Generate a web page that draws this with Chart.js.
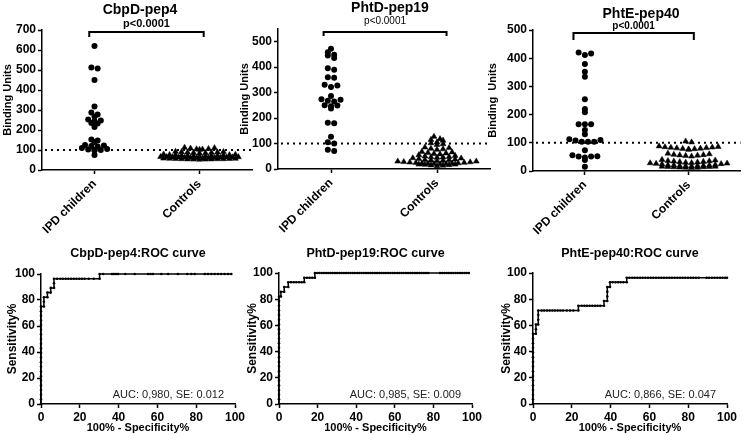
<!DOCTYPE html>
<html>
<head>
<meta charset="utf-8">
<script src="https://cdn.jsdelivr.net/npm/chart.js@4.4.1/dist/chart.umd.min.js"></script>
<style>
  html, body { margin: 0; padding: 0; background: #fff; }
  #page { position: relative; width: 745px; height: 435px; overflow: hidden; }
  .panel { position: absolute; }
</style>
</head>
<body>
<div id="page">
  <div class="panel" id="p1"><canvas></canvas></div>
  <div class="panel" id="p2"><canvas></canvas></div>
  <div class="panel" id="p3"><canvas></canvas></div>
  <div class="panel" id="p4"><canvas></canvas></div>
  <div class="panel" id="p5"><canvas></canvas></div>
  <div class="panel" id="p6"><canvas></canvas></div>
</div>
<script>
const groups = ['IPD children', 'Controls'];

// binding units (top row)
const cbpdIpd  = [620, 513, 508, 450, 318, 288, 278, 268, 252, 248, 245, 235, 232, 215, 152, 148, 140, 125, 122, 120, 118, 110, 105, 102, 100, 100, 98, 75];
const cbpdCtrl = [112, 110, 108, 106, 104, 103, 102, 92, 91, 90, 89, 88, 87, 86, 85, 84, 78, 77, 76, 75, 75, 74, 73, 72, 72, 71, 70, 70, 69,
                  66, 65, 65, 64, 64, 63, 63, 62, 62, 61, 61, 60, 60, 58, 58, 57, 57, 56, 56, 55, 55, 55, 54, 54, 53, 53, 52];
const phtdIpd  = [472, 459, 449, 446, 436, 396, 390, 360, 358, 331, 328, 322, 287, 274, 272, 268, 265, 250, 249, 247, 238, 182, 180, 127, 105, 100, 76, 71];
const phtdCtrl = [127, 118, 115, 112, 105, 102, 98, 95, 85, 83, 80, 78, 76, 68, 66, 64, 62, 60, 58, 55, 52, 50, 48, 47, 46, 45, 43, 42, 40,
                  38, 36, 35, 34, 33, 32, 30, 30, 28, 27, 26, 25, 24, 23, 22, 22, 21, 20, 20, 19, 18, 18, 17, 16, 15, 14, 12];
const phteIpd  = [420, 417, 411, 379, 352, 334, 254, 220, 208, 166, 166, 166, 145, 130, 113, 110, 108, 104, 104, 104, 74, 56, 52, 51, 51, 48, 39, 15];
const phteCtrl = [105, 102, 88, 86, 85, 84, 83, 82, 81, 80, 79, 78, 77, 76, 62, 60, 58, 57, 56, 55, 54, 52,
                  40, 38, 36, 35, 34, 33, 32, 31, 30, 29, 28, 27, 26, 25, 24, 22, 21, 20, 20, 19, 18, 18, 17, 17, 16, 16, 15, 15, 14, 14, 13, 12, 12, 11];
const cutoff = 100;

// ROC curves: x = 100% - specificity%, y = sensitivity%
const rocCbpdX = [0, 0, 0, 0, 0, 0, 0, 0, 0, 0, 0, 0, 0, 0, 0, 0, 0, 0, 0, 0, 0, 0,
  1.5, 1.5, 1.5, 3.3, 3.3, 5, 5, 6.7, 6.7, 6.7,
  8.3, 10, 11.3, 12.7, 14.1, 15.5, 16.9, 18.3, 19.7, 21.1, 22.5, 24.6, 27.2, 30.2,
  30.2, 32, 36.6, 37.6, 38.7, 39.7, 43.5, 48.3, 55.2, 56.5, 57.7, 62, 65.5, 70.6, 75.4, 77.5, 79.2, 84.4, 86.1, 87.8, 89.5, 91.2, 92.9, 94.6, 96.4, 98.1];
const rocCbpdY = [0, 3.6, 7.1, 10.7, 14.3, 17.9, 21.4, 25, 28.6, 32.1, 35.7, 39.3, 42.9, 46.4, 50, 53.6, 57.1, 60.7, 64.3, 67.9, 71.4, 75,
  75, 78.6, 82.1, 82.1, 85.7, 85.7, 89.3, 89.3, 92.9, 96.4,
  96.4, 96.4, 96.4, 96.4, 96.4, 96.4, 96.4, 96.4, 96.4, 96.4, 96.4, 96.4, 96.4, 96.4,
  100, 100, 100, 100, 100, 100, 100, 100, 100, 100, 100, 100, 100, 100, 100, 100, 100, 100, 100, 100, 100, 100, 100, 100, 100, 100];

const rocPhtdX = [0, 0, 0, 0, 0, 0, 0, 0, 0, 0, 0, 0, 0, 0, 0, 0, 0, 0, 0, 0, 0, 0, 0, 0,
  1, 1, 2.7, 2.7, 4.8, 4.8, 6.2, 7.6, 9, 10.4, 11.7, 13.1, 13.1, 14.5, 15.9, 17.3, 18.6, 18.6,
  19.8, 20.9, 22.1, 23.2, 24.4, 25.5, 26.7, 27.8, 29, 30.1, 31.3, 32.4, 33.6, 34.7, 35.9, 37, 38.2, 39.3, 40.5, 41.6,
  42.8, 43.9, 45.1, 46.2, 47.4, 48.5, 49.7, 50.8, 52, 53.1, 54.3, 55.4, 56.6, 57.7, 58.9, 60, 61.2, 62.3, 63.5, 64.6,
  65.8, 66.9, 68.1, 69.2, 70.4, 71.5, 72.7, 73.8, 75, 76.1, 77.3,
  83.4, 84.6, 85.7, 86.9, 88, 89.2, 90.3, 91.5, 92.6, 93.8, 94.9, 96.1, 97.2, 98.4];
const rocPhtdY = [0, 3.6, 7.1, 10.7, 14.3, 17.9, 21.4, 25, 28.6, 32.1, 35.7, 39.3, 42.9, 46.4, 50, 53.6, 57.1, 60.7, 64.3, 67.9, 71.4, 75, 78.6, 82.1,
  82.1, 85.7, 85.7, 89.3, 89.3, 92.9, 92.9, 92.9, 92.9, 92.9, 92.9, 92.9, 96.4, 96.4, 96.4, 96.4, 96.4, 100,
  100, 100, 100, 100, 100, 100, 100, 100, 100, 100, 100, 100, 100, 100, 100, 100, 100, 100, 100, 100,
  100, 100, 100, 100, 100, 100, 100, 100, 100, 100, 100, 100, 100, 100, 100, 100, 100, 100, 100, 100,
  100, 100, 100, 100, 100, 100, 100, 100, 100, 100, 100,
  100, 100, 100, 100, 100, 100, 100, 100, 100, 100, 100, 100, 100, 100];

const rocPhteX = [0, 0, 0, 0, 0, 0, 0, 0, 0, 0, 0, 0, 0, 0, 0, 0,
  1.5, 1.5, 1.5, 2.7, 2.7, 2.7, 2.7,
  4.5, 5.8, 7.2, 8.6, 10, 11.3, 12.7, 14.1, 15.5, 17.4, 19.1, 20.8, 23.4, 23.4,
  25.1, 26.5, 27.8, 29.2, 30.6, 32, 33.3, 34.7, 36.6, 36.6,
  38.3, 38.3, 38.3, 38.3, 39.7, 39.7,
  41.1, 42.5, 43.9, 45.2, 46.6, 48.3, 48.3,
  49.7, 51.1, 52.4, 53.8, 55.2, 56.5, 57.9, 59.3, 60.7, 62, 63.4, 64.8, 66.2, 67.5, 68.9, 70.3, 71.6, 73, 74.4, 75.8,
  77.1, 78.5, 79.9, 81.3, 82.6, 84, 85.4, 89.5, 90.8, 92.2, 93.6, 95, 96.4, 97.7, 99.1, 100];
const rocPhteY = [0, 3.6, 7.1, 10.7, 14.3, 17.9, 21.4, 25, 28.6, 32.1, 35.7, 39.3, 42.9, 46.4, 50, 53.6,
  53.6, 57.1, 60.7, 60.7, 64.3, 67.9, 71.4,
  71.4, 71.4, 71.4, 71.4, 71.4, 71.4, 71.4, 71.4, 71.4, 71.4, 71.4, 71.4, 71.4, 75,
  75, 75, 75, 75, 75, 75, 75, 75, 75, 78.6,
  78.6, 82.1, 85.7, 89.3, 89.3, 92.9,
  92.9, 92.9, 92.9, 92.9, 92.9, 92.9, 96.4,
  96.4, 96.4, 96.4, 96.4, 96.4, 96.4, 96.4, 96.4, 96.4, 96.4, 96.4, 96.4, 96.4, 96.4, 96.4, 96.4, 96.4, 96.4, 96.4, 96.4,
  96.4, 96.4, 96.4, 96.4, 96.4, 96.4, 96.4, 96.4, 96.4, 96.4, 96.4, 96.4, 96.4, 96.4, 96.4, 96.4];

const aucText = ['AUC: 0,980, SE: 0.012', 'AUC: 0,985, SE: 0.009', 'AUC: 0,866, SE: 0.047'];

const FAMILY = '"Liberation Sans", Arial, Helvetica, sans-serif';
const tickFont = { family: FAMILY, size: 12, weight: 'bold' };

// GraphPad-like column scatter: group close values into rows, spread rows sideways
function swarm(values, center, bin, dx, maxRow) {
  const sorted = [...values].sort((a, b) => b - a);
  const rows = [];
  let row = null;
  sorted.forEach(v => {
    if (!row || row[0] - v >= bin || row.length >= maxRow) { row = [v]; rows.push(row); }
    else row.push(v);
  });
  const pts = [];
  rows.forEach(r => {
    const n = r.length;
    r.forEach((v, i) => {
      const slot = i % 2 === 0 ? i / 2 : n - 1 - (i - 1) / 2;
      pts.push({ x: center + (slot - (n - 1) / 2) * dx, y: v });
    });
  });
  return pts;
}

const decor = {
  id: 'decor',
  beforeDatasetsDraw(chart, args, o) {
    if (o.cutoff == null) return;
    const ctx = chart.ctx, a = chart.chartArea;
    const y = chart.scales.y.getPixelForValue(o.cutoff);
    ctx.save();
    ctx.strokeStyle = '#000';
    ctx.lineWidth = 2;
    ctx.setLineDash([2, 4]);
    ctx.beginPath();
    ctx.moveTo(a.left + 3, y);
    ctx.lineTo(a.right, y);
    ctx.stroke();
    ctx.restore();
  },
  afterDatasetsDraw(chart, args, o) {
    const ctx = chart.ctx, a = chart.chartArea;
    const bx = o.box[0], by = o.box[1];
    const xs = chart.scales.x;
    ctx.save();
    ctx.fillStyle = '#000';
    ctx.strokeStyle = '#000';
    ctx.textAlign = 'center';
    ctx.textBaseline = 'middle';
    if (o.title) {
      ctx.font = 'bold ' + o.titleSize + 'px ' + FAMILY;
      const tx = o.titleX != null ? o.titleX - bx : (a.left + a.right) / 2;
      ctx.fillText(o.title, tx, o.titleY - by);
    }
    if (o.bracket) {
      const x1 = xs.getPixelForValue(o.bracket[0]), x2 = xs.getPixelForValue(o.bracket[1]);
      const y0 = o.bracketY - by, y1 = o.bracketTip - by;
      ctx.lineWidth = 2;
      ctx.beginPath();
      ctx.moveTo(x1, y1); ctx.lineTo(x1, y0); ctx.lineTo(x2, y0); ctx.lineTo(x2, y1);
      ctx.stroke();
      ctx.font = o.pFont + ' ' + FAMILY;
      ctx.fillText('p<0.0001', (x1 + x2) / 2, o.pY - by);
    }
    if (o.auc) {
      ctx.font = '11px ' + FAMILY;
      ctx.fillStyle = '#222';
      ctx.textAlign = 'right';
      ctx.fillText(o.auc, a.right - 11, a.bottom - 9);
    }
    ctx.restore();
  }
};

function axisStyle() {
  return {
    grid: { drawOnChartArea: false, drawTicks: true, tickLength: 4, tickWidth: 1.5, tickColor: '#000' },
    border: { display: true, color: '#000', width: 1.5 }
  };
}

function build(id, box, area, cfg) {
  const el = document.getElementById(id);
  el.style.left = box[0] + 'px';
  el.style.top = box[1] + 'px';
  el.style.width = box[2] + 'px';
  el.style.height = box[3] + 'px';
  const yW = area[0] - box[0];
  const xH = box[1] + box[3] - area[3];
  cfg.options.layout = { padding: { left: 0, top: area[1] - box[1], right: box[0] + box[2] - area[2], bottom: 0 } };
  cfg.options.scales.y.afterFit = s => { s.width = yW; };
  cfg.options.scales.x.afterFit = s => { s.height = xH; s.paddingLeft = 0; s.paddingRight = 0; };
  cfg.options.plugins.decor.box = box;
  cfg.options.plugins.legend = { display: false };
  cfg.options.plugins.tooltip = { enabled: false };
  cfg.options.animation = false;
  cfg.options.responsive = true;
  cfg.options.maintainAspectRatio = false;
  cfg.plugins = [decor];
  return new Chart(el.querySelector('canvas'), cfg);
}

function scatterPanel(id, box, area, ipd, ctrl, yMax, yTitle, bins, deco) {
  build(id, box, area, {
    type: 'scatter',
    data: {
      datasets: [
        { label: groups[0], data: swarm(ipd, 1, bins[0], 0.06, 14), pointStyle: 'circle', pointRadius: 3,
          backgroundColor: '#000', borderColor: '#000', borderWidth: 0, clip: false },
        { label: groups[1], data: swarm(ctrl, 2, bins[1], 0.057, 14), pointStyle: 'triangle', pointRadius: 3.4,
          backgroundColor: '#000', borderColor: '#000', borderWidth: 0.5, clip: false }
      ]
    },
    options: {
      scales: {
        x: Object.assign(axisStyle(), {
          type: 'linear', min: 0.5, max: 2.5,
          afterBuildTicks: s => { s.ticks = [{ value: 1 }, { value: 2 }]; },
          afterCalculateLabelRotation: s => { s.labelRotation = 45; },
          ticks: { autoSkip: false, minRotation: 45, maxRotation: 45, padding: 3, color: '#000', font: tickFont,
                   callback: v => groups[Math.round(v) - 1] }
        }),
        y: Object.assign(axisStyle(), {
          type: 'linear', min: 0, max: yMax,
          ticks: { stepSize: 100, includeBounds: false, padding: 2, color: '#000', font: tickFont },
          title: { display: true, text: yTitle, color: '#000', padding: 0, font: { family: FAMILY, size: 11, weight: 'bold' } }
        })
      },
      plugins: { decor: Object.assign({ cutoff: cutoff, titleSize: 14 }, deco) }
    }
  });
}

function rocPanel(id, box, area, xs, ys, title, auc) {
  build(id, box, area, {
    type: 'line',
    data: {
      datasets: [{
        data: xs.map((x, i) => ({ x: x, y: ys[i] })),
        borderColor: '#000', borderWidth: 1.5, tension: 0,
        pointRadius: 1.3, pointBackgroundColor: '#000', pointBorderWidth: 0, clip: false
      }]
    },
    options: {
      scales: {
        x: Object.assign(axisStyle(), {
          type: 'linear', min: 0, max: 100,
          ticks: { stepSize: 20, padding: 2, color: '#000', font: tickFont, maxRotation: 0 },
          title: { display: true, text: '100% - Specificity%', color: '#000', padding: 0, font: { family: FAMILY, size: 11, weight: 'bold' } }
        }),
        y: Object.assign(axisStyle(), {
          type: 'linear', min: 0, max: 100,
          ticks: { stepSize: 20, padding: 2, color: '#000', font: tickFont },
          title: { display: true, text: 'Sensitivity%', color: '#000', padding: 0, font: { family: FAMILY, size: 12, weight: 'bold' } }
        })
      },
      plugins: { decor: { title: title, titleSize: 12.5, titleY: 254, auc: auc } }
    }
  });
}

scatterPanel('p1', [1, 0, 256, 235], [42, 30, 252, 170], cbpdIpd, cbpdCtrl, 700, 'Binding Units', [12, 10],
  { title: 'CbpD-pep4', titleX: 140, titleY: 10, bracket: [0.95, 2.04], bracketY: 32, bracketTip: 37, pY: 24, pFont: 'bold 11px' });
scatterPanel('p2', [238, 0, 258, 235], [278, 29, 490, 169], phtdIpd, phtdCtrl, 550, 'Binding Units', [12, 12],
  { title: 'PhtD-pep19', titleX: 390, titleY: 8, bracket: [0.93, 2.09], bracketY: 32, bracketTip: 36, pY: 21, pFont: '10px' });
scatterPanel('p3', [486, 0, 259, 235], [533, 30, 745, 171], phteIpd, phteCtrl, 500, 'Binding  Units', [10, 12],
  { title: 'PhtE-pep40', titleX: 641, titleY: 14, bracket: [0.89, 2.05], bracketY: 33, bracketTip: 40, pY: 26, pFont: 'bold 10px' });

rocPanel('p4', [5, 240, 242, 195], [41, 274, 235, 404], rocCbpdX, rocCbpdY, 'CbpD-pep4:ROC curve', aucText[0]);
rocPanel('p5', [245, 240, 240, 195], [279, 273, 472, 404], rocPhtdX, rocPhtdY, 'PhtD-pep19:ROC curve', aucText[1]);
rocPanel('p6', [499, 240, 246, 195], [533, 273, 727, 404], rocPhteX, rocPhteY, 'PhtE-pep40:ROC curve', aucText[2]);
</script>
</body>
</html>
